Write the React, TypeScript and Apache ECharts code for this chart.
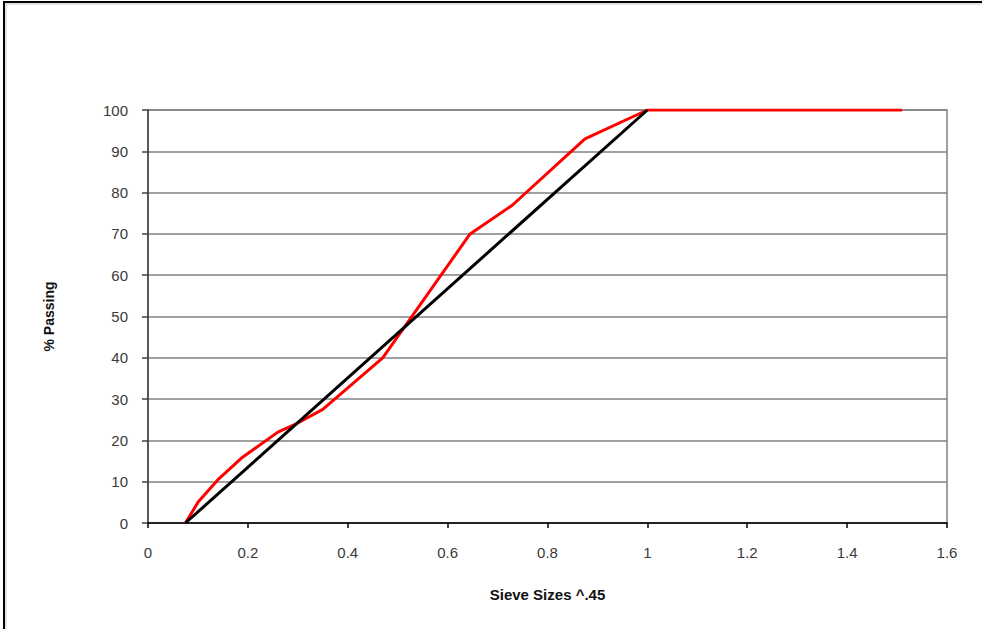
import React, { useEffect, useRef } from "react";
import * as echarts from "echarts";

const gradationX = [0.075, 0.1, 0.14, 0.19, 0.26, 0.3, 0.35, 0.47, 0.645, 0.73, 0.875, 1.0, 1.51];
const gradationY = [0, 5, 10.5, 16, 22, 24.2, 27.5, 40, 70, 77, 93, 100, 100];
const maxDensityX = [0.075, 1.0];
const maxDensityY = [0, 100];
const xTicks = { min: 0, max: 1.6, interval: 0.2 };
const yTicks = { min: 0, max: 100, interval: 10 };

export default function App() {
  const ref = useRef<HTMLDivElement>(null);
  useEffect(() => {
    if (!ref.current) return;
    const chart = echarts.init(ref.current, null, { renderer: "svg" });
    const font = "'Liberation Sans', Arial, sans-serif";
    chart.setOption({
      animation: false,
      backgroundColor: "#ffffff",
      grid: {
        left: 148,
        top: 110,
        width: 799,
        height: 413,
        show: true,
        borderColor: "#808080",
        borderWidth: 1.5,
        backgroundColor: "transparent",
      },
      graphic: [
        { type: "line", shape: { x1: 3, y1: 2, x2: 982, y2: 2 }, style: { stroke: "#000", lineWidth: 2 } },
        { type: "line", shape: { x1: 3, y1: 4, x2: 982, y2: 4 }, style: { stroke: "#c8c8c8", lineWidth: 1 } },
        { type: "line", shape: { x1: 4, y1: 2, x2: 4, y2: 629 }, style: { stroke: "#000", lineWidth: 2 } },
        { type: "line", shape: { x1: 6, y1: 4, x2: 6, y2: 629 }, style: { stroke: "#c8c8c8", lineWidth: 1 } },
      ],
      xAxis: {
        type: "value",
        min: xTicks.min,
        max: xTicks.max,
        interval: xTicks.interval,
        name: "Sieve Sizes ^.45",
        nameLocation: "middle",
        nameGap: 64,
        nameTextStyle: { fontFamily: font, fontSize: 15, fontWeight: "bold", color: "#111" },
        axisLine: { show: true, onZero: false, lineStyle: { color: "#000", width: 1.5 } },
        axisTick: { show: true, length: 5, lineStyle: { color: "#000", width: 1.5 } },
        axisLabel: { margin: 22, fontFamily: font, fontSize: 15, color: "#3a3a3a" },
        splitLine: { show: false },
      },
      yAxis: {
        type: "value",
        min: yTicks.min,
        max: yTicks.max,
        interval: yTicks.interval,
        name: "% Passing",
        nameLocation: "middle",
        nameGap: 92,
        nameTextStyle: { fontFamily: font, fontSize: 14, fontWeight: "bold", color: "#111" },
        axisLine: { show: true, onZero: false, lineStyle: { color: "#404040", width: 1.5 } },
        axisTick: { show: true, length: 6, lineStyle: { color: "#404040", width: 1.5 } },
        axisLabel: { margin: 20, fontFamily: font, fontSize: 15, color: "#3a3a3a" },
        splitLine: { show: true, lineStyle: { color: "#808080", width: 1.5 } },
      },
      series: [
        {
          type: "line",
          data: gradationX.map((x, i) => [x, gradationY[i]]),
          showSymbol: false,
          symbol: "none",
          lineStyle: { color: "#ff0000", width: 3 },
          z: 3,
        },
        {
          type: "line",
          data: maxDensityX.map((x, i) => [x, maxDensityY[i]]),
          showSymbol: false,
          symbol: "none",
          lineStyle: { color: "#000000", width: 3 },
          z: 4,
        },
      ],
    });
    return () => chart.dispose();
  }, []);
  return (
    <div style={{ position: "fixed", left: 0, top: 0, width: 982, height: 629, background: "#fff" }}>
      <div ref={ref} style={{ width: 982, height: 629 }} />
    </div>
  );
}
